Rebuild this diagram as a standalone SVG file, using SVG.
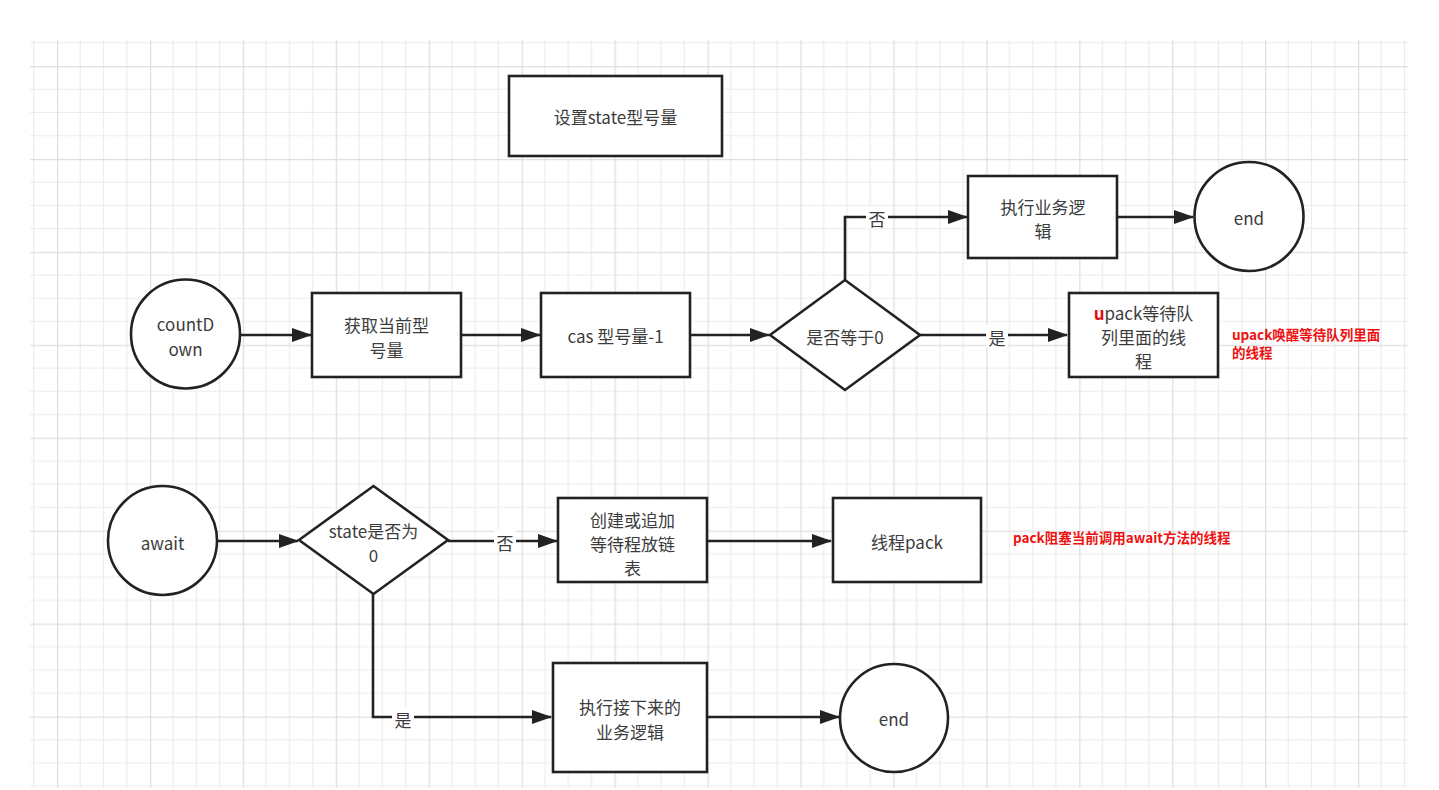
<svg xmlns="http://www.w3.org/2000/svg" width="1439" height="790" viewBox="0 0 1439 790">
<defs>
<pattern id="grid" patternUnits="userSpaceOnUse" x="57" y="66" width="92.93" height="92.93">
<path d="M23.23 0V92.93M46.47 0V92.93M69.7 0V92.93M0 23.23H92.93M0 46.47H92.93M0 69.7H92.93" stroke="#ececec" stroke-width="1.2" fill="none"/>
<path d="M0.6 0V92.93M0 0.6H92.93" stroke="#dedede" stroke-width="1.3" fill="none"/>
</pattern>
<marker id="arr" markerWidth="20" markerHeight="14" refX="19" refY="7" orient="auto" markerUnits="userSpaceOnUse">
<path d="M0 0L20 7L0 14Z" fill="#222"/>
</marker>
<style>
.n{fill:#fff;stroke:#222;stroke-width:2.6}
.t{font-family:"Microsoft YaHei","Noto Sans CJK SC","Noto Sans",sans-serif;font-size:17px;fill:#3c3c3c;text-anchor:middle;dominant-baseline:central}
.c{fill:none;stroke:#222;stroke-width:2.6;marker-end:url(#arr)}
.lb{fill:#fff}
.r{font-family:"Noto Sans CJK SC","Noto Sans",sans-serif;font-size:13.5px;font-weight:bold;fill:#ee1111;dominant-baseline:central}
</style>
</defs>
<rect width="1439" height="790" fill="#fff"/>
<rect x="30" y="40" width="1378" height="748" fill="url(#grid)"/>

<g id="connectors">
<path class="c" d="M240 335H311"/>
<path class="c" d="M462 335H540"/>
<path class="c" d="M691 335H769"/>
<path class="c" d="M920 335H1067"/>
<path class="c" d="M845 280V217H967"/>
<path class="c" d="M1118 217H1193"/>
<path class="c" d="M218 541H298"/>
<path class="c" d="M448 541H557"/>
<path class="c" d="M707 541H831"/>
<path class="c" d="M373 594V717H551"/>
<path class="c" d="M708 717H839"/>
<rect class="lb" x="866" y="206" width="22" height="22"/>
<text class="t" x="877" y="218">否</text>
<rect class="lb" x="986" y="325" width="22" height="22"/>
<text class="t" x="997" y="337">是</text>
<rect class="lb" x="494" y="530" width="22" height="22"/>
<text class="t" x="505" y="542">否</text>
<rect class="lb" x="392" y="707" width="22" height="22"/>
<text class="t" x="403" y="719">是</text>
</g>

<g id="setState">
<rect class="n" x="509" y="76" width="213" height="80"/>
<text class="t" x="615.5" y="116">设置state型号量</text>
</g>

<g id="countDown">
<circle class="n" cx="185.5" cy="334" r="54.5"/>
<text class="t" x="185.5" y="323">countD</text>
<text class="t" x="185.5" y="348">own</text>
</g>

<g id="getState">
<rect class="n" x="312" y="293" width="149" height="84"/>
<text class="t" x="386.5" y="324">获取当前型</text>
<text class="t" x="386.5" y="349">号量</text>
</g>

<g id="cas">
<rect class="n" x="541" y="293" width="149" height="84"/>
<text class="t" x="615.5" y="335">cas 型号量-1</text>
</g>

<g id="isZero">
<path class="n" d="M770 335L845 280L920 335L845 390Z"/>
<text class="t" x="845" y="336">是否等于0</text>
</g>

<g id="doBusiness">
<rect class="n" x="968" y="176" width="149" height="82"/>
<text class="t" x="1043" y="206">执行业务逻</text>
<text class="t" x="1043" y="230">辑</text>
</g>

<g id="end1">
<circle class="n" cx="1249" cy="216.5" r="54.5"/>
<text class="t" x="1249" y="217">end</text>
</g>

<g id="upack">
<rect class="n" x="1069" y="293" width="149" height="84"/>
<text class="t" x="1143.5" y="312"><tspan fill="#e01010" font-weight="bold">u</tspan>pack等待队</text>
<text class="t" x="1143.5" y="336">列里面的线</text>
<text class="t" x="1143.5" y="360">程</text>
</g>

<g id="note1">
<text class="r" x="1232" y="334">upack唤醒等待队列里面</text>
<text class="r" x="1232" y="352">的线程</text>
</g>

<g id="await">
<circle class="n" cx="162.5" cy="540.5" r="54.5"/>
<text class="t" x="162.5" y="542">await</text>
</g>

<g id="stateZero">
<path class="n" d="M299 540L373.5 486L448 540L373.5 594Z"/>
<text class="t" x="373.5" y="530">state是否为</text>
<text class="t" x="373.5" y="554">0</text>
</g>

<g id="createList">
<rect class="n" x="558" y="498" width="149" height="84"/>
<text class="t" x="632.5" y="519">创建或追加</text>
<text class="t" x="632.5" y="543">等待程放链</text>
<text class="t" x="632.5" y="567">表</text>
</g>

<g id="threadPack">
<rect class="n" x="833" y="498" width="148" height="84"/>
<text class="t" x="907" y="541">线程pack</text>
</g>

<g id="note2">
<text class="r" x="1013" y="537">pack阻塞当前调用await方法的线程</text>
</g>

<g id="doNext">
<rect class="n" x="553" y="663" width="154" height="109"/>
<text class="t" x="630" y="706">执行接下来的</text>
<text class="t" x="630" y="731">业务逻辑</text>
</g>

<g id="end2">
<circle class="n" cx="894" cy="718" r="54"/>
<text class="t" x="894" y="718">end</text>
</g>
</svg>
